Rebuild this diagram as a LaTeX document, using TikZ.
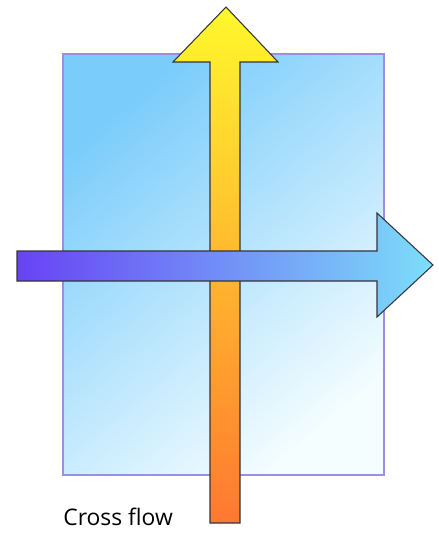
\documentclass[tikz,border=0pt]{standalone}
\usepackage{fontspec}
\setmainfont{Open Sans}
\usepackage{xcolor}
\definecolor{panelblue}{RGB}{122,204,251}
\definecolor{panelwhite}{RGB}{244,253,255}
\definecolor{paneledge}{RGB}{158,142,226}
\definecolor{hotend}{RGB}{255,120,48}
\definecolor{warmend}{RGB}{255,248,44}
\definecolor{coldstart}{RGB}{104,66,245}
\definecolor{coldend}{RGB}{124,222,249}
\definecolor{outline}{RGB}{52,52,64}

\begin{document}
\begin{tikzpicture}[
    x=0.02cm, y=-0.02cm,
    panel/.style={draw=paneledge, line width=0.9pt, top color=panelblue, bottom color=panelwhite, shading angle=40},
    flowarrow/.style={draw=outline, line width=0.6pt, line join=miter},
    caption/.style={font=\fontsize{13}{15}\selectfont, anchor=base west, inner sep=0pt},
]
\useasboundingbox (0,0) rectangle (439,534);

% Plate
\draw[panel] (63,54) rectangle (384,475);

% Hot stream (upwards)
\draw[flowarrow, top color=warmend, bottom color=hotend]
    (210,523) -- (210,62) -- (173,62) -- (226,7) -- (278,62) -- (240,62) -- (240,523) -- cycle;

% Cold stream (to the right)
\draw[flowarrow, left color=coldstart, right color=coldend]
    (17,251) -- (377,251) -- (377,213) -- (433,265) -- (377,317) -- (377,281) -- (17,281) -- cycle;

\node[caption] (crossflow) at (63,525) {Cross flow};

\end{tikzpicture}
\end{document}
